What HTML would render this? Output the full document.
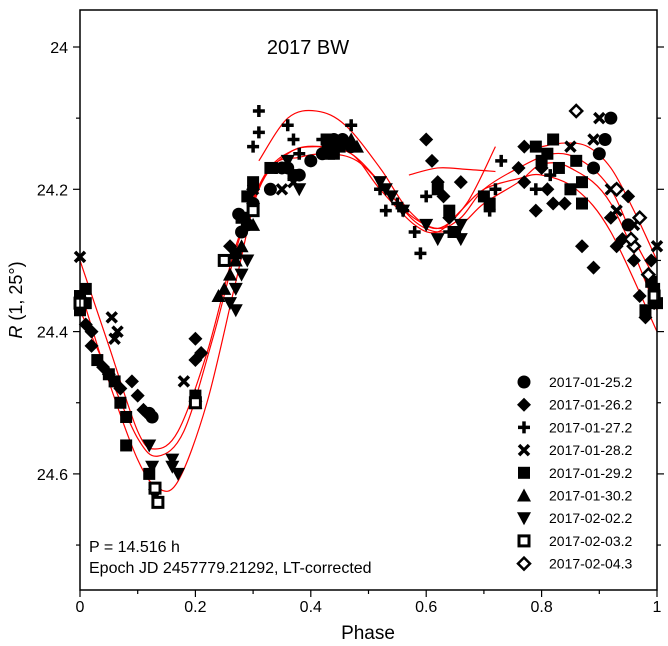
<!DOCTYPE html>
<html><head><meta charset="utf-8"><style>body{margin:0;background:#fff}svg{display:block;font-family:"Liberation Sans",sans-serif}</style></head>
<body>
<svg id="chart" width="668" height="646" viewBox="0 0 668 646" xmlns="http://www.w3.org/2000/svg">
<rect x="0" y="0" width="668" height="646" fill="#fff"/>
<g id="curves"></g>
<g id="marks"></g>
<g id="axes"></g>
<g id="legend"></g>
<text x="308" y="54" font-size="20" text-anchor="middle">2017 BW</text>
<text x="89" y="552" font-size="16">P = 14.516 h</text>
<text x="89" y="573" font-size="16">Epoch JD 2457779.21292, LT-corrected</text>
<text x="368" y="639" font-size="19" text-anchor="middle">Phase</text>
<text transform="translate(22,300) rotate(-90)" font-size="18" text-anchor="middle"><tspan font-style="italic">R</tspan> (1, 25°)</text>
</svg>
<script>
const xTicks=[0,0.2,0.4,0.6,0.8,1];
const xTickLabels=["0","0.2","0.4","0.6","0.8","1"];
const yTicks=[24,24.2,24.4,24.6];
const yTickLabels=["24","24.2","24.4","24.6"];
const seriesNames=["2017-01-25.2","2017-01-26.2","2017-01-27.2","2017-01-28.2","2017-01-29.2","2017-01-30.2","2017-02-02.2","2017-02-03.2","2017-02-04.3"];
const seriesMarkers=["circle","diamond","plus","cross","square","triangle","down","osquare","odiamond"];
const s1=[[0.12,24.515],[0.125,24.52],[0.275,24.235],[0.28,24.26],[0.3,24.22],[0.33,24.2],[0.36,24.17],[0.38,24.18],[0.4,24.16],[0.42,24.15],[0.44,24.13],[0.455,24.13],[0.47,24.14],[0.9,24.15],[0.92,24.1],[0.91,24.13],[0.89,24.17],[0.95,24.25],[0.29,24.25],[0.35,24.17],[0.43,24.14]];
const s2=[[0.01,24.39],[0.02,24.42],[0.04,24.45],[0.07,24.48],[0.1,24.49],[0.11,24.51],[0.2,24.41],[0.21,24.43],[0.2,24.44],[0.26,24.28],[0.3,24.22],[0.3,24.2],[0.6,24.13],[0.61,24.16],[0.63,24.21],[0.64,24.24],[0.66,24.19],[0.76,24.17],[0.77,24.14],[0.77,24.19],[0.79,24.23],[0.81,24.2],[0.84,24.22],[0.87,24.28],[0.89,24.31],[0.92,24.24],[0.93,24.28],[0.95,24.21],[0.97,24.35],[0.98,24.38],[0.995,24.36],[0.99,24.3],[0.02,24.4],[0.05,24.46],[0.09,24.47],[0.62,24.19],[0.8,24.17],[0.82,24.22],[0.94,24.27],[0.96,24.3]];
const s3=[[0.31,24.09],[0.31,24.12],[0.3,24.14],[0.36,24.11],[0.37,24.13],[0.34,24.17],[0.42,24.13],[0.47,24.11],[0.52,24.2],[0.53,24.23],[0.56,24.23],[0.58,24.26],[0.59,24.29],[0.6,24.21],[0.64,24.26],[0.72,24.2],[0.73,24.16],[0.71,24.23],[0.79,24.2],[0.815,24.18],[0.38,24.15],[0.55,24.22]];
const s4=[[0.0,24.295],[0.055,24.38],[0.065,24.4],[0.06,24.41],[0.18,24.47],[0.3,24.2],[0.35,24.2],[0.37,24.19],[0.9,24.1],[0.89,24.13],[0.85,24.14],[0.93,24.23],[0.96,24.25],[1.0,24.28],[0.92,24.2],[0.29,24.24]];
const s5=[[0.0,24.35],[0.0,24.37],[0.01,24.36],[0.03,24.44],[0.05,24.46],[0.06,24.47],[0.08,24.52],[0.08,24.56],[0.12,24.6],[0.2,24.49],[0.27,24.29],[0.29,24.21],[0.33,24.17],[0.37,24.18],[0.43,24.13],[0.45,24.14],[0.62,24.2],[0.64,24.23],[0.65,24.26],[0.7,24.21],[0.71,24.22],[0.79,24.14],[0.8,24.16],[0.82,24.13],[0.86,24.16],[0.87,24.19],[0.995,24.34],[0.99,24.33],[1,24.36],[0.01,24.34],[0.07,24.5],[0.28,24.24],[0.3,24.19],[0.44,24.15],[0.81,24.15],[0.83,24.17],[0.85,24.2],[0.87,24.22],[0.98,24.37]];
const s6=[[0.2,24.49],[0.2,24.5],[0.24,24.35],[0.26,24.32],[0.28,24.28],[0.3,24.25],[0.43,24.15],[0.47,24.13],[0.48,24.14],[0.25,24.34],[0.27,24.3]];
const s7=[[0.12,24.56],[0.125,24.59],[0.13,24.63],[0.16,24.59],[0.17,24.6],[0.16,24.58],[0.26,24.36],[0.27,24.34],[0.28,24.32],[0.36,24.16],[0.38,24.2],[0.52,24.19],[0.54,24.21],[0.56,24.23],[0.6,24.25],[0.62,24.27],[0.66,24.27],[0.66,24.25],[0.27,24.37],[0.29,24.3],[0.53,24.2]];
const s8=[[0.0,24.36],[0.13,24.62],[0.135,24.64],[0.2,24.5],[0.3,24.23],[0.25,24.3],[0.995,24.35]];
const s9=[[0.86,24.09],[0.93,24.2],[0.96,24.28],[0.955,24.27],[0.97,24.24],[0.985,24.32]];
const fit1=[[0,24.30],[0.05,24.42],[0.1,24.54],[0.13,24.565],[0.17,24.54],[0.22,24.43],[0.27,24.28],[0.32,24.18],[0.37,24.145],[0.42,24.14],[0.47,24.15],[0.52,24.19],[0.57,24.235],[0.62,24.255],[0.66,24.24],[0.7,24.2],[0.76,24.17],[0.82,24.15],[0.87,24.16],[0.92,24.2],[0.96,24.27],[1,24.33]];
const fit2=[[0,24.37],[0.05,24.46],[0.1,24.55],[0.135,24.575],[0.18,24.54],[0.23,24.41],[0.28,24.26],[0.33,24.17],[0.38,24.155],[0.43,24.15],[0.48,24.16],[0.53,24.2],[0.58,24.245],[0.62,24.26],[0.66,24.25],[0.7,24.22],[0.76,24.19],[0.8,24.165],[0.85,24.17],[0.92,24.22],[1,24.37]];
const fit3=[[0,24.34],[0.05,24.47],[0.1,24.58],[0.135,24.62],[0.17,24.61],[0.22,24.5],[0.27,24.33],[0.31,24.2],[0.36,24.15],[0.41,24.14],[0.47,24.15],[0.52,24.2],[0.58,24.25],[0.62,24.26],[0.66,24.23],[0.7,24.2],[0.76,24.185],[0.8,24.18],[0.86,24.2],[0.92,24.26],[1,24.40]];
const fit4=[[0.31,24.16],[0.36,24.1],[0.41,24.09],[0.46,24.11],[0.52,24.17],[0.57,24.23],[0.62,24.255],[0.67,24.22],[0.72,24.14]];
const fit5=[[0.57,24.18],[0.62,24.17],[0.67,24.172],[0.72,24.175]];
const fit6=[[0.8,24.14],[0.84,24.135],[0.88,24.14],[0.92,24.17],[0.96,24.23],[1,24.3]];
const allSeries=[s1,s2,s3,s4,s5,s6,s7,s8,s9];
const allFits=[fit1,fit2,fit3,fit4,fit5,fit6];

const X0=80,X1=657,Y0=10,Y1=590;
const xs=p=>X0+p*(X1-X0);
const ys=m=>47+(m-24)*711.5;
const NS="http://www.w3.org/2000/svg";
function mk(tag,attrs,parent){const e=document.createElementNS(NS,tag);for(const k in attrs)e.setAttribute(k,attrs[k]);parent.appendChild(e);return e;}

function marker(type,cx,cy,parent){
  const r=6;let e;
  if(type==="circle")e=mk("circle",{cx:cx,cy:cy,r:6.5,fill:"#000"},parent);
  else if(type==="diamond")e=mk("polygon",{points:`${cx},${cy-7} ${cx+7},${cy} ${cx},${cy+7} ${cx-7},${cy}`,fill:"#000"},parent);
  else if(type==="plus")e=mk("path",{d:`M${cx-6},${cy}H${cx+6}M${cx},${cy-6}V${cy+6}`,stroke:"#000","stroke-width":3.5,fill:"none"},parent);
  else if(type==="cross")e=mk("path",{d:`M${cx-5},${cy-5}L${cx+5},${cy+5}M${cx+5},${cy-5}L${cx-5},${cy+5}`,stroke:"#000","stroke-width":3.5,fill:"none"},parent);
  else if(type==="square")e=mk("rect",{x:cx-r,y:cy-r,width:2*r,height:2*r,fill:"#000"},parent);
  else if(type==="triangle")e=mk("polygon",{points:`${cx},${cy-7} ${cx+7},${cy+6} ${cx-7},${cy+6}`,fill:"#000"},parent);
  else if(type==="down")e=mk("polygon",{points:`${cx-7},${cy-6} ${cx+7},${cy-6} ${cx},${cy+7}`,fill:"#000"},parent);
  else if(type==="osquare")e=mk("rect",{x:cx-5,y:cy-5,width:10,height:10,fill:"#fff",stroke:"#000","stroke-width":3},parent);
  else e=mk("polygon",{points:`${cx},${cy-6} ${cx+6},${cy} ${cx},${cy+6} ${cx-6},${cy}`,fill:"#fff",stroke:"#000","stroke-width":2.5},parent);
  return e;
}

const cg=document.getElementById("curves");
allFits.forEach((f,i)=>{
  let d="M"+xs(f[0][0])+","+ys(f[0][1]);
  for(let k=1;k<f.length;k++){
    const p0=f[Math.max(k-2,0)],p1=f[k-1],p2=f[k],p3=f[Math.min(k+1,f.length-1)];
    const c1x=xs(p1[0])+(xs(p2[0])-xs(p0[0]))/6,c1y=ys(p1[1])+(ys(p2[1])-ys(p0[1]))/6;
    const c2x=xs(p2[0])-(xs(p3[0])-xs(p1[0]))/6,c2y=ys(p2[1])-(ys(p3[1])-ys(p1[1]))/6;
    d+=`C${c1x},${c1y} ${c2x},${c2y} ${xs(p2[0])},${ys(p2[1])}`;
  }
  const e=mk("path",{d:d,fill:"none",stroke:"#f00","stroke-width":1.2},cg);
  
  
});

const mg=document.getElementById("marks");
allSeries.forEach((s,i)=>{
  s.forEach(pt=>{
    const e=marker(seriesMarkers[i],xs(pt[0]),ys(pt[1]),mg);
    
    
  });
});

const ag=document.getElementById("axes");
const frame=mk("rect",{x:X0,y:Y0,width:X1-X0,height:Y1-Y0,fill:"none",stroke:"#000","stroke-width":1.5},ag);


for(let k=0;k<=10;k++){
  const x=xs(k/10),len=k%2===0?7:4;
  mk("line",{x1:x,y1:Y1,x2:x,y2:Y1+len,stroke:"#000","stroke-width":1.2},ag);
}
xTicks.forEach((t,i)=>{
  const e=mk("text",{x:xs(t),y:Y1+22,"font-size":16,"text-anchor":"middle"},ag);
  e.textContent=xTickLabels[i];
  
  
});
for(let k=-1;k<=7;k++){
  const m=24+k*0.1,y=ys(m);if(y<Y0||y>Y1)continue;
  const len=k%2===0?7:4;
  mk("line",{x1:X0-len,y1:y,x2:X0,y2:y,stroke:"#000","stroke-width":1.2},ag);
  mk("line",{x1:X1,y1:y,x2:X1+len,y2:y,stroke:"#000","stroke-width":1.2},ag);
}
yTicks.forEach((t,i)=>{
  const e=mk("text",{x:X0-12,y:ys(t)+6,"font-size":16,"text-anchor":"end"},ag);
  e.textContent=yTickLabels[i];
  
  
});

const lg=document.getElementById("legend");
seriesNames.forEach((n,i)=>{
  const y=382+i*22.7;
  const m=marker(seriesMarkers[i],524,y,lg);
  
  
  const t=mk("text",{x:549,y:y+5,"font-size":14},lg);
  t.textContent=n;
  
  
});
</script>
</body></html>
